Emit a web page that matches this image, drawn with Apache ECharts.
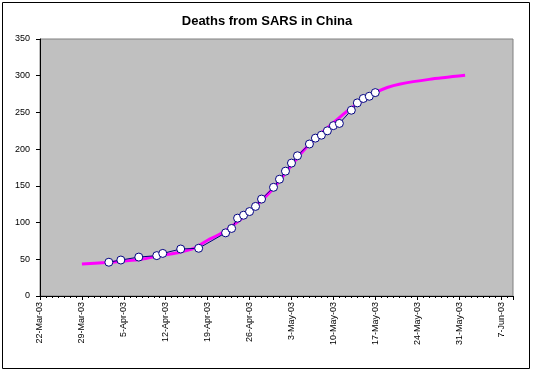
<!DOCTYPE html>
<html>
<head>
<meta charset="utf-8">
<script src="https://cdn.jsdelivr.net/npm/echarts@6/dist/echarts.min.js"></script>
<style>
  html, body { margin: 0; padding: 0; background: #fff; }
  #chart { width: 534px; height: 373px; }
</style>
</head>
<body>
<div id="chart"></div>
<script>
// ---- data ----
const chartTitle = 'Deaths from SARS in China';
const axisStartDate = '2003-03-22';
const axisEndDate = '2003-06-09';
const tickLabels = ['22-Mar-03', '29-Mar-03', '5-Apr-03', '12-Apr-03', '19-Apr-03', '26-Apr-03',
                    '3-May-03', '10-May-03', '17-May-03', '24-May-03', '31-May-03', '7-Jun-03'];
const yTicks = [0, 50, 100, 150, 200, 250, 300, 350];

// reported cumulative deaths (blue line with markers)
const reportDates = ['2003-04-02 12:00', '2003-04-04 12:00', '2003-04-07 12:00', '2003-04-10 12:00',
                     '2003-04-11 12:00', '2003-04-14 12:00', '2003-04-17 12:00',
                     '2003-04-22', '2003-04-23', '2003-04-24', '2003-04-25', '2003-04-26', '2003-04-27',
                     '2003-04-28', '2003-04-30', '2003-05-01', '2003-05-02', '2003-05-03', '2003-05-04',
                     '2003-05-06', '2003-05-07', '2003-05-08', '2003-05-09', '2003-05-10', '2003-05-11',
                     '2003-05-13', '2003-05-14', '2003-05-15', '2003-05-16', '2003-05-17'];
const reportDeaths = [46, 49, 53, 55, 58, 64, 65,
                      86, 92, 106, 110, 115, 122, 132, 148, 159, 170, 181, 191,
                      207, 215, 219, 225, 232, 235, 253, 263, 269, 272, 277];

// fitted trend (magenta curve)
const trendDates = ['2003-03-29', '2003-04-02', '2003-04-05', '2003-04-08', '2003-04-11', '2003-04-14',
                    '2003-04-17', '2003-04-19', '2003-04-21', '2003-04-24', '2003-04-26', '2003-04-29',
                    '2003-05-01', '2003-05-03', '2003-05-05', '2003-05-08', '2003-05-11', '2003-05-13',
                    '2003-05-15', '2003-05-17', '2003-05-19', '2003-05-21', '2003-05-26', '2003-06-01'];
const trendDeaths = [43.5, 45.5, 47.5, 50, 55, 59, 66, 76, 84, 101, 115, 138,
                     157, 178, 198, 222, 243, 256, 267, 277, 284, 288.5, 295, 300.5];

// ---- helpers ----
function toUTC(s) {
  const [d, t] = s.split(' ');
  const [y, m, dd] = d.split('-').map(Number);
  let h = 0, mi = 0;
  if (t) { [h, mi] = t.split(':').map(Number); }
  return Date.UTC(y, m - 1, dd, h, mi);
}
const DAY = 86400000;
const t0 = toUTC(axisStartDate);
const dayOf = s => (toUTC(s) - t0) / DAY;
const xMax = dayOf(axisEndDate);

const reportData = reportDates.map((d, i) => [dayOf(d), reportDeaths[i]]);
const trendData = trendDates.map((d, i) => [dayOf(d), trendDeaths[i]]);

const font = 'Liberation Sans, Arial, sans-serif';

const chart = echarts.init(document.getElementById('chart'), null, { renderer: 'canvas' });
chart.setOption({
  animation: false,
  backgroundColor: '#ffffff',
  title: {
    text: chartTitle,
    left: 'center',
    top: 10,
    textStyle: { fontFamily: font, fontSize: 13, fontWeight: 'bold', color: '#000' }
  },
  grid: {
    left: 40, top: 39, width: 473, height: 257,
    show: true, backgroundColor: '#C0C0C0', borderColor: '#808080', borderWidth: 1,
    containLabel: false
  },
  xAxis: {
    type: 'value',
    min: 0, max: xMax, interval: 7,
    axisLine: { show: true, onZero: false, lineStyle: { color: '#000', width: 1 } },
    axisTick: { show: true, length: 4, lineStyle: { color: '#000' } },
    minorTick: { show: true, splitNumber: 7, length: 2, lineStyle: { color: '#000' } },
    splitLine: { show: false },
    minorSplitLine: { show: false },
    axisLabel: {
      rotate: 90, margin: 6, fontSize: 9, fontFamily: font, color: '#000',
      showMaxLabel: false,
      formatter: v => {
        const k = Math.round(v / 7);
        return (Math.abs(v - k * 7) < 1e-6 && tickLabels[k]) ? tickLabels[k] : '';
      }
    }
  },
  yAxis: {
    type: 'value',
    min: yTicks[0], max: yTicks[yTicks.length - 1], interval: yTicks[1] - yTicks[0],
    axisLine: { show: true, lineStyle: { color: '#000', width: 1 } },
    axisTick: { show: true, length: 4, lineStyle: { color: '#000' } },
    splitLine: { show: false },
    axisLabel: { margin: 10, fontSize: 9, fontFamily: font, color: '#000' }
  },
  graphic: [{
    type: 'rect',
    shape: { x: 2.5, y: 2.5, width: 527, height: 366 },
    style: { fill: null, stroke: '#000', lineWidth: 1 },
    silent: true, z: 100
  }],
  series: [
    {
      name: 'Trend',
      type: 'line',
      data: trendData,
      smooth: 0.25,
      showSymbol: false,
      symbol: 'none',
      lineStyle: { color: '#FF00FF', width: 3 },
      z: 2
    },
    {
      name: 'Deaths',
      type: 'line',
      data: reportData,
      symbol: 'circle',
      symbolSize: 8,
      showAllSymbol: true,
      itemStyle: { color: '#ffffff', borderColor: '#000080', borderWidth: 1 },
      lineStyle: { color: '#000080', width: 1 },
      z: 3
    }
  ]
});
</script>
</body>
</html>
